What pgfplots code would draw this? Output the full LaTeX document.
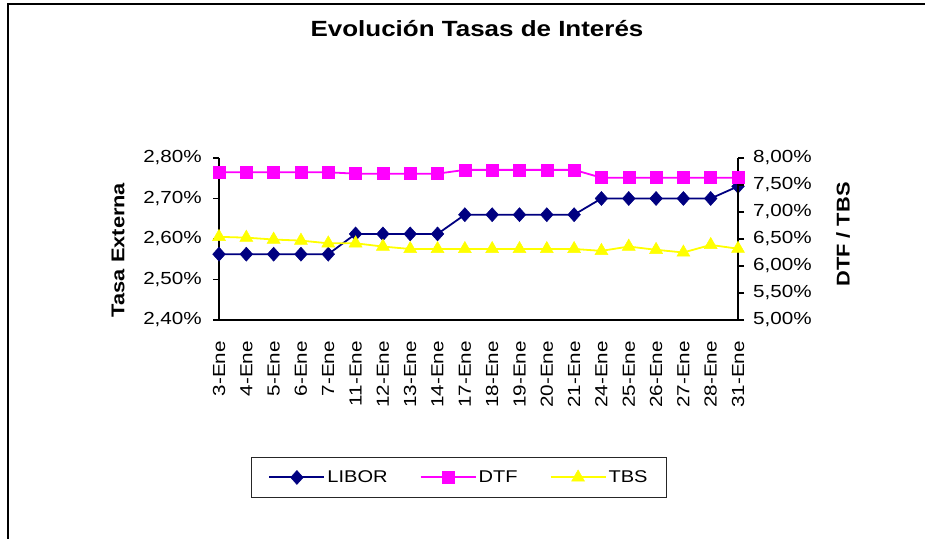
\documentclass[border=0pt]{standalone}
\usepackage{fontspec}
\setmainfont{Liberation Sans}[FakeStretch=1.18]
\usepackage{pgfplots}
\pgfplotsset{compat=1.18}
\definecolor{libor}{RGB}{0,0,128}
\definecolor{dtf}{RGB}{255,0,255}
\definecolor{tbs}{RGB}{255,255,0}

\pgfplotstableread{
x libor dtf tbs
0 2.5625 7.735 6.54
1 2.5625 7.735 6.525
2 2.5625 7.735 6.49
3 2.5625 7.735 6.47
4 2.5625 7.735 6.42
5 2.6125 7.71 6.42
6 2.6125 7.71 6.36
7 2.6125 7.71 6.315
8 2.6125 7.71 6.315
9 2.66 7.78 6.315
10 2.66 7.78 6.315
11 2.66 7.78 6.315
12 2.66 7.78 6.315
13 2.66 7.78 6.315
14 2.70 7.635 6.28
15 2.70 7.635 6.36
16 2.70 7.635 6.30
17 2.70 7.635 6.25
18 2.70 7.635 6.39
19 2.73 7.635 6.32
}\datatable

\pgfplotsset{
 base/.style={scale only axis, width=519bp, height=162bp, at={(219bp,219bp)}, anchor=south west,
  xmin=0, xmax=19, tick align=outside, major tick length=6bp,
  /pgf/number format/assume math mode=true,
  ticklabel style={font=\fontsize{17.5bp}{20bp}\selectfont},
  axis line style={line width=1.3bp}, tick style={line width=1.3bp, black},
  clip=false},
 liborstyle/.style={color=libor, draw=libor, line width=1.8bp, mark=diamond*, mark size=7bp, mark options={solid, fill=libor, draw=libor, line width=0.5bp, xscale=1.2}},
 dtfstyle/.style={color=dtf, draw=dtf, line width=1.8bp, mark=square*, mark size=6bp, mark options={solid, fill=dtf, draw=dtf, line width=0.5bp}},
 tbsstyle/.style={color=tbs, draw=tbs, line width=1.8bp, mark=triangle*, mark size=7.5bp, mark options={solid, fill=tbs, draw=tbs, line width=0.5bp}},
}

\begin{document}
\begin{tikzpicture}[x=1bp,y=1bp]
\path[use as bounding box] (0,0) rectangle (925,539);
\draw[line width=2bp] (7.5,0) -- (7.5,534.5) -- (925,534.5);

\begin{axis}[base,
  axis y line*=left, axis x line*=bottom,
  ymin=2.40, ymax=2.80, ytick={2.40,2.50,2.60,2.70,2.80},
  yticklabel={\pgfmathprintnumber[fixed,fixed zerofill,precision=2,use comma]{\tick}\%},
  yticklabel style={inner sep=0pt, inner xsep=11bp, anchor=east},
  xtick={0,...,19},
  xticklabels={3-Ene,4-Ene,5-Ene,6-Ene,7-Ene,11-Ene,12-Ene,13-Ene,14-Ene,17-Ene,18-Ene,19-Ene,20-Ene,21-Ene,24-Ene,25-Ene,26-Ene,27-Ene,28-Ene,31-Ene},
  x tick style={draw=none},
  xticklabel style={rotate=90, anchor=east, inner ysep=0pt, inner xsep=15bp},
]
\addplot[liborstyle] table[x=x, y=libor] {\datatable};
\end{axis}

\begin{axis}[base,
  axis y line*=right, axis x line=none,
  ymin=5, ymax=8, ytick={5,5.5,6,6.5,7,7.5,8},
  yticklabel={\pgfmathprintnumber[fixed,fixed zerofill,precision=2,use comma]{\tick}\%},
  yticklabel style={inner sep=0pt, inner xsep=9bp, anchor=west},
  legend style={at={(rel axis cs:0.4624,-0.972)}, anchor=center, draw=none, name=leg,
    font=\fontsize{17bp}{20bp}\selectfont, inner xsep=16.5bp, inner ysep=11bp,
    /tikz/every even column/.append style={column sep=30bp}},
  legend columns=3,
  legend image code/.code={\draw[#1, line width=2bp] (0bp,0bp) -- (55bp,0bp);
    \draw[#1, only marks, mark repeat=1] plot coordinates {(27.5bp,0bp)};},
]
\addlegendimage{liborstyle}
\addlegendentry{LIBOR}
\addplot[dtfstyle] table[x=x, y=dtf] {\datatable};
\addlegendentry{DTF}
\addplot[tbsstyle] table[x=x, y=tbs] {\datatable};
\addlegendentry{TBS}
\end{axis}
\draw[line width=1.2bp, black!85] (leg.south west) rectangle (leg.north east);

\node[rotate=90, font=\bfseries\fontsize{18.5bp}{22bp}\selectfont] at (118,289) {Tasa Externa};
\node[rotate=90, font=\bfseries\fontsize{18.5bp}{22bp}\selectfont] at (843,304.5) {DTF / TBS};
\node[font=\bfseries\fontsize{22bp}{26bp}\selectfont] at (477,510) {Evolución Tasas de Interés};
\end{tikzpicture}
\end{document}
